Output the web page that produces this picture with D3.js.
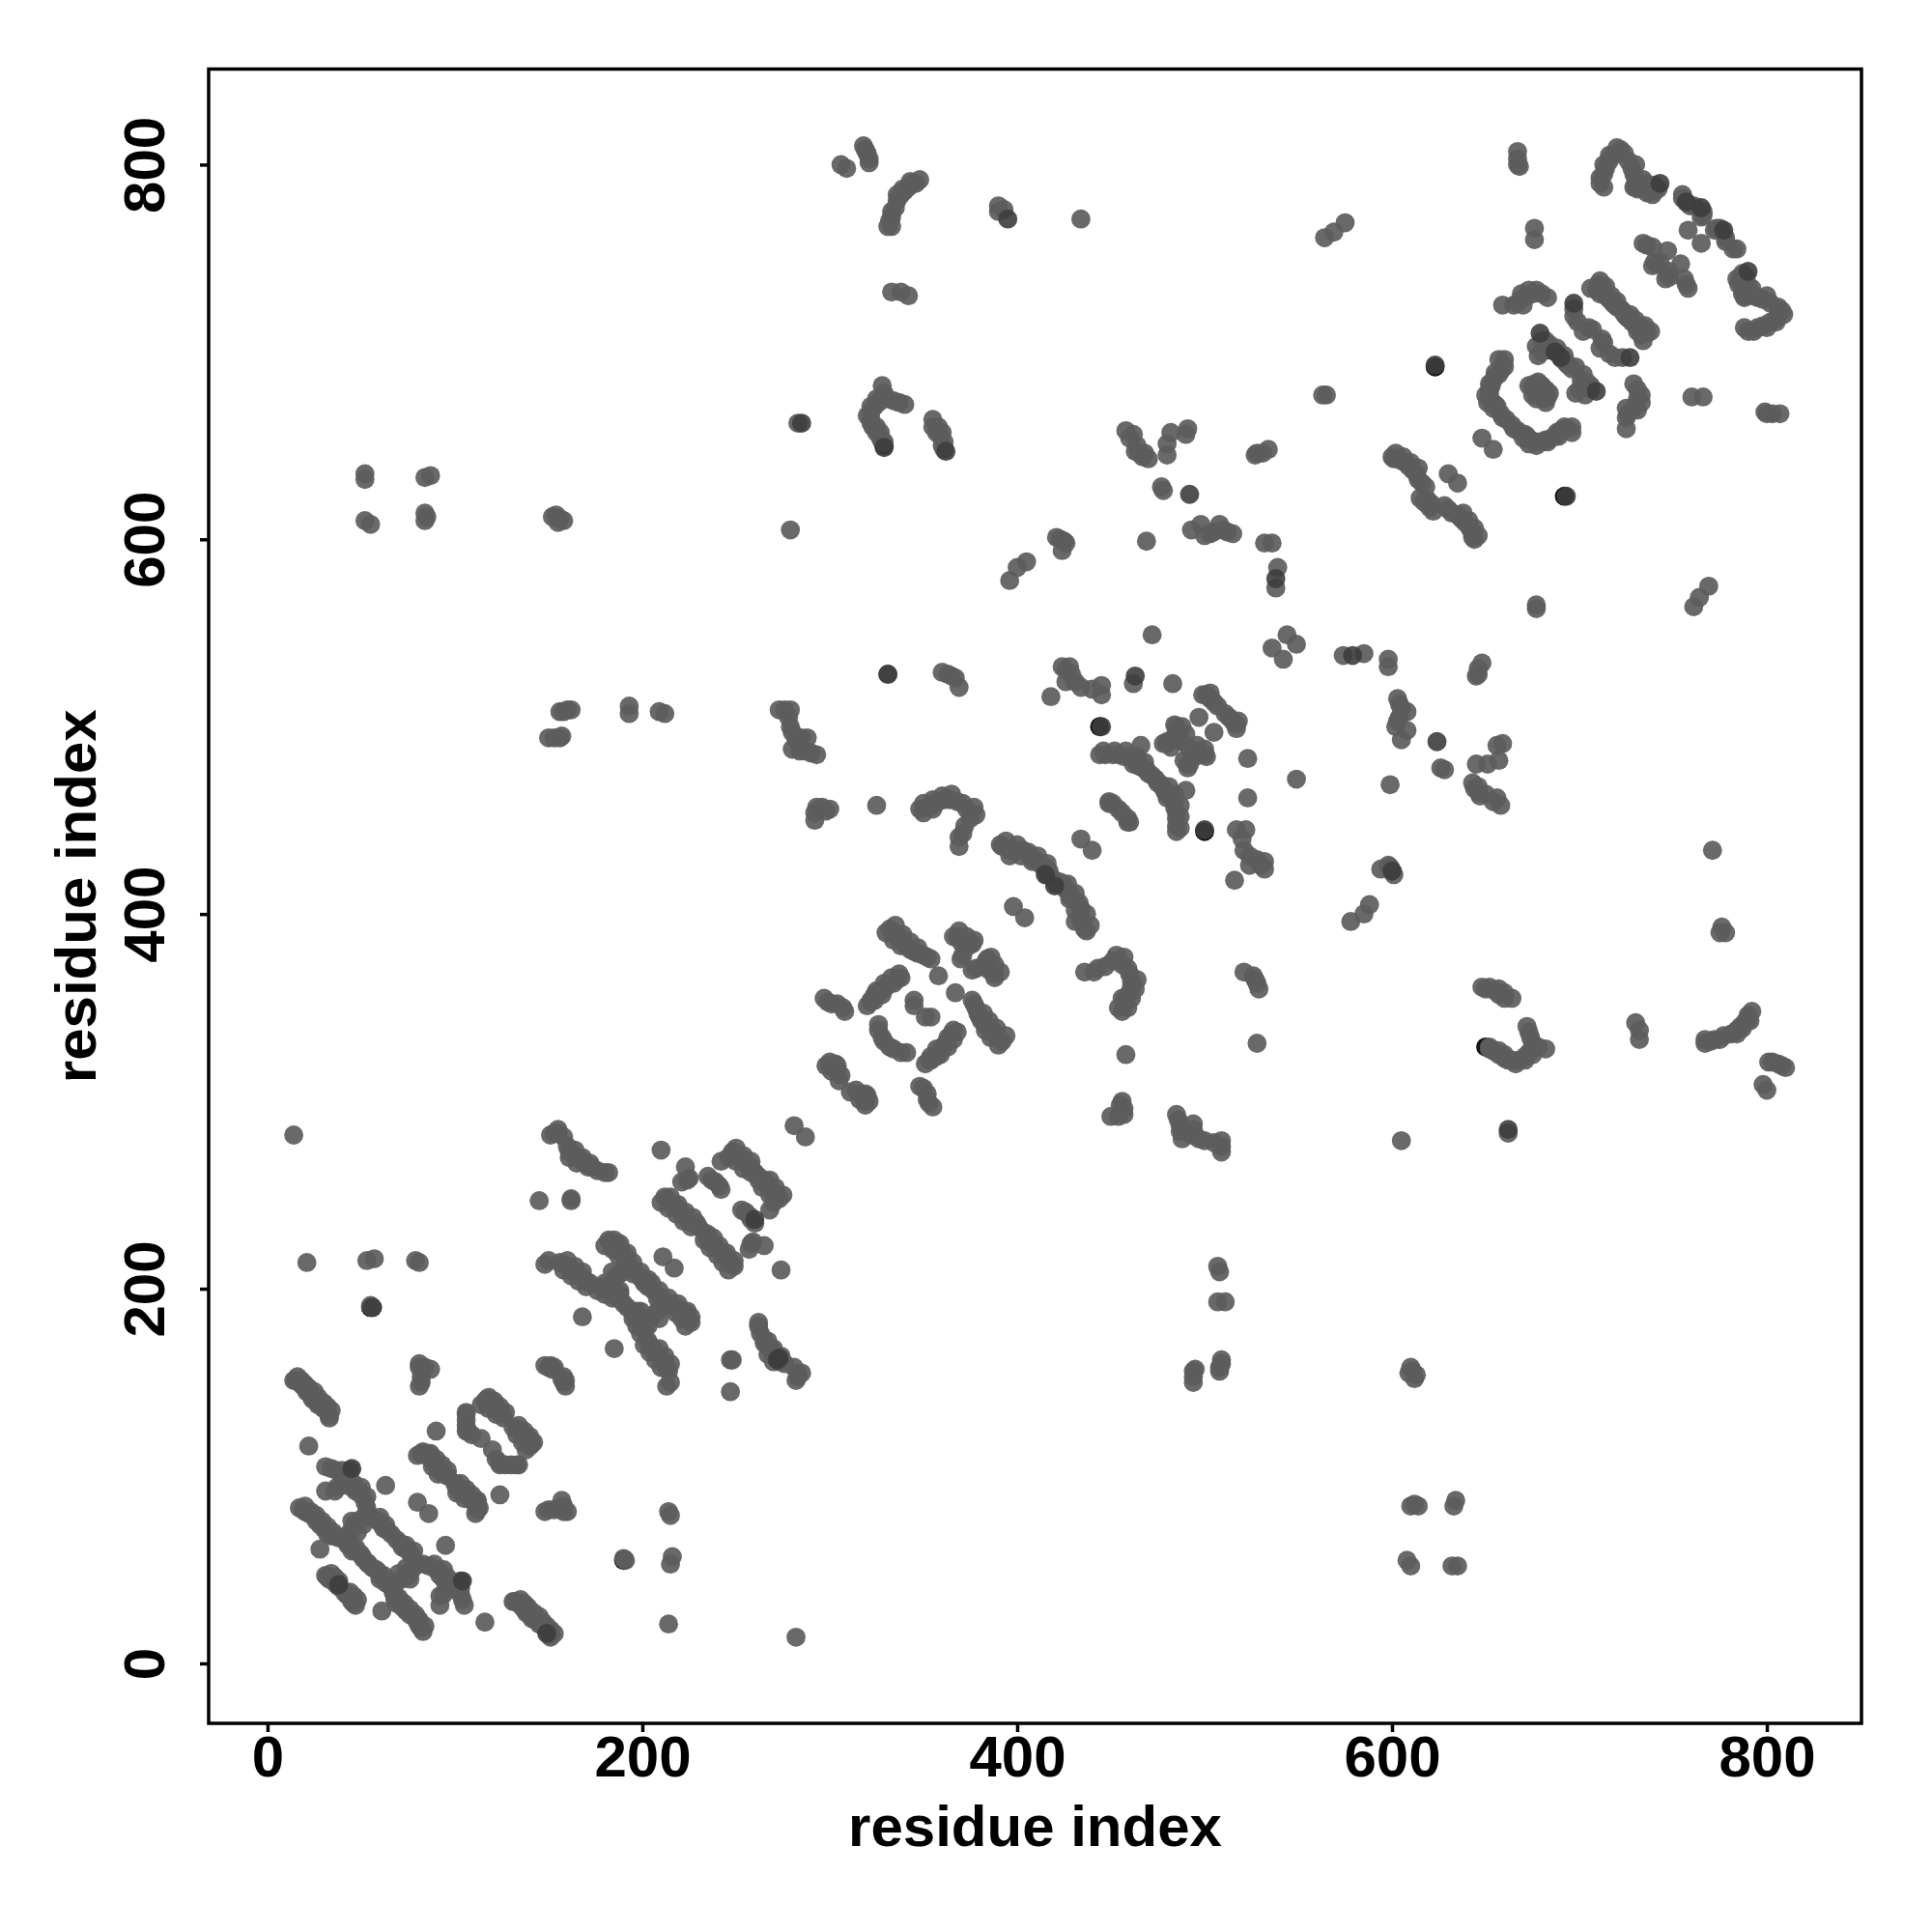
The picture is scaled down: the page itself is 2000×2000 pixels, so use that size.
<!DOCTYPE html>
<html><head><meta charset="utf-8"><style>html,body{margin:0;background:#fff}svg{display:block}text{font-family:"Liberation Sans",Arial,sans-serif;font-weight:bold;fill:#000}</style>
<script src="https://cdn.jsdelivr.net/npm/d3@7"></script></head><body><div id="c"></div><script>
const xTicks=[0,200,400,600,800], yTicks=[0,200,400,600,800];
const axisLabel="residue index";
const nTermContacts=[[14,151],[15,151],[17,151],[18,149],[19,148],[20,147],[21,145],[23,143],[24,141],[26,140],[27,138],[29,137],[30,136],[32,134],[33,132],[33,131],[22,116],[14,282],[21,214],[53,215],[57,216],[79,215],[81,214],[56,190],[55,191],
[31,105],[34,104],[37,103],[40,103],[44,103],[31,92],[37,94],[36,92],[41,97],[43,95],[45,94],[47,92],[49,92],[50,90],[52,86],[53,83],[53,80],[55,78],[57,77],[59,76],[61,74],[62,72],[64,71],[66,69],
[17,83],[19,82],[20,81],[22,80],[24,79],[26,76],[28,74],[30,72],[32,69],[34,68],[36,68],[38,67],[41,66],[43,63],[45,60],[47,60],[49,59],[51,56],[53,54],
[45,76],[47,75],[50,77],[46,73],[44,70],[43,68],[48,70],[51,74],[31,47],[32,46],[33,45],[35,44],[36,43],[37,42],[38,41],[28,61],[63,95],[80,86],[90,124],
[80,111],[82,112],[84,112],[85,111],[87,109],[89,107],[90,106],[91,104],[93,102],[94,101],[96,100],[86,112],
[116,140],[117,141],[118,140],[120,139],[122,136],[123,135],[125,133],[126,131],[106,133],[106,130],[106,124],[106,127],[107,124],[109,122],[114,120],[106,134],
[81,158],[84,158],[87,157],[82,150],[81,148],[82,153],[81,160],[148,159],[150,158],[151,159],[153,158],[152,157],
[16,153],[18,151],[20,149],[22,147],[25,145],[27,142],[30,139],[32,137],[34,135],[20,84],[23,81],[26,79],[29,76],[32,73],[35,70],[42,65],[47,62],[50,58],[40,99],[43,98],[46,96],[50,94],[53,89],[60,78],[63,74],[34,48],[36,46],[38,44],
[83,113],[87,112],[90,109],[93,106],[96,103],[88,105],[91,101],[118,142],[121,140],[124,137],[127,134],[114,138],[118,136],[122,133]];
const midContacts=[[151,282],[153,283],[155,283],[158,281],[161,273],[163,272],[165,270],[167,269],[169,267],[171,265],[173,265],[176,263],[180,262],[182,262],[145,247],[162,248],[162,247],
[148,213],[156,214],[158,213],[160,212],[162,210],[164,209],[166,207],[168,206],[170,204],[172,203],[168,185],
[182,226],[183,225],[185,224],[187,223],[189,220],[191,217],[192,215],[194,211],[196,209],[199,206],[201,204],[203,201],[188,220],[191,216],[184,209],[186,206],[188,208],
[178,201],[180,200],[182,199],[184,198],[186,196],[188,197],[190,192],[187,195],[183,201],
[210,274],[223,265],[225,259],[221,257],[224,258],[235,260],[237,258],[239,257],[241,255],[242,253],[242,268],[248,273],[250,272],[252,270],[254,268],[256,266],[258,265],[260,262],
[212,249],[213,248],[215,246],[217,244],[219,243],[221,240],[223,238],[225,236],[227,235],[229,235],[230,233],[211,217],
[273,509],[276,509],[279,509],[278,505],[279,500],[280,497],[282,493],[285,494],[288,494],[280,488],[284,487],[287,487],[290,486],[293,485],[281,287],
[298,319],[300,319],[302,318],[304,316],[306,314],[303,320],[297,355],[299,353],[301,352],[304,352],[307,350],[308,348],
[322,353],[322,354],[324,357],[326,358],[329,360],[331,362],[334,363],[336,365],[338,366],[326,341],[326,338],[328,334],[329,332],
[332,392],[334,390],[336,388],[338,387],[341,383],[343,381],[345,380],[347,379],[350,378],[352,377],[354,376],[345,354],[345,351],[358,367],
[366,388],[368,388],[370,385],[372,384],[374,383],[371,378],[376,384],[370,376],
[292,450],[292,454],[293,457],[296,457],[298,455],[300,456],[325,458],[331,528],[360,529],[363,528],[367,526],[369,521],[365,527],
[348,456],[352,457],[355,458],[358,460],[361,461],[364,461],[368,460],[371,459],[373,456],[377,457],[378,453],[375,451],[372,447],[371,443],[369,441],[369,436],
[391,437],[392,436],[396,434],[400,434],[403,434],[407,431],[409,429],[411,428],[413,426],[415,425],[416,421],[418,420],[417,423],[398,404],[434,440],
[155,285],[160,276],[164,274],[168,270],[172,267],[161,270],[165,267],[150,215],[160,215],[164,212],[168,209],[158,210],[162,207],[166,204],[170,201],[185,226],[188,224],[192,219],[195,214],[199,209],[203,205],[180,223],[184,221],[187,218],[191,212],[195,208],[180,203],[184,201],[188,199],[176,199],[180,197],[184,195],
[250,275],[254,271],[258,268],[246,270],[250,268],[254,264],[258,262],[215,249],[219,245],[223,241],[227,238],[210,246],[214,243],[218,240],[222,236],[226,233],
[300,321],[304,319],[301,316],[305,311],[325,359],[329,363],[333,366],[337,368],[320,351],[324,354],[328,357],[335,394],[339,389],[343,385],[347,382],[330,390],[334,386],[338,383],[369,391],[373,388],[377,386],
[350,459],[355,461],[360,463],[365,464],[350,454],[355,456],[394,439],[400,437],[406,433],[411,431],[416,427],[396,431],[402,431],[408,428]];
const longRangeContacts=[[150,494],[153,494],[156,494],[157,495],[156,508],[158,508],[160,509],[162,509],[193,511],[193,507],[209,508],[212,507],
[52,632],[52,635],[52,610],[55,608],[84,633],[87,634],[84,614],[84,610],[85,612],[152,612],[154,613],[156,611],[158,610],[155,609],[279,605],[283,662],
[306,800],[309,798],[318,810],[319,808],[320,806],[321,803],[321,801],[331,767],[333,767],[333,772],[335,777],[336,781],[338,784],[340,786],[342,788],[344,790],[346,790],[348,792],[333,732],[338,732],[342,730],
[390,778],[393,776],[390,775],[434,771],[564,761],[569,764],[575,769],[563,677],[565,677],
[320,666],[322,664],[323,660],[325,657],[327,654],[328,652],[322,668],[324,671],[326,673],[328,675],[328,682],[331,675],[334,674],[337,673],[340,672],
[355,664],[355,660],[357,657],[359,655],[361,652],[361,648],[360,650],
[396,578],[400,585],[405,588],[421,601],[423,600],[425,599],[424,594],[426,598],
[322,662],[325,660],[327,657],[329,652],[322,671],[325,675],[329,678],[358,660],[360,657],[333,775],[336,784],[339,787],[343,791],[332,770]];
const cTermContacts=[[462,656],[463,647],[467,644],[470,643],[465,646],[480,651],[482,657],[491,659],[490,656],[480,645],[477,628],[478,626],[469,599],
[493,605],[498,608],[503,603],[508,608],[515,603],[500,602],[505,604],[510,605],[512,604],[532,598],[536,598],[539,585],[538,574],[528,646],[531,646],[534,648],[527,645],
[472,549],[536,542],[544,549],[418,516],[424,532],[428,532],[426,524],[431,524],[434,521],[445,522],[445,517],[440,520],[429,528],[426,530],[462,523],[483,523],
[501,517],[505,513],[499,517],[503,515],[507,511],[503,518],[497,505],
[444,485],[447,485],[451,485],[454,485],[457,484],[460,484],[463,482],[462,480],[466,490],[465,479],[467,478],[469,477],[472,474],[449,460],[451,459],[454,456],[449,459],
[478,491],[480,492],[482,489],[484,501],[486,497],[488,500],[490,496],[485,500],[480,491],[486,494],[488,492],[484,495],
[600,644],[601,643],[603,643],[605,642],[607,641],[609,639],[611,637],[613,635],[614,632],[616,630],[618,628],[630,635],[615,622],[617,620],[619,621],[648,654],
[660,696],[660,692],[658,690],[655,687],[654,685],[653,682],[652,680],[652,678],[653,674],[655,672],[656,671],[658,667],[659,665],[661,664],[657,688],[659,693],
[673,682],[678,684],[675,677],[675,681],[680,682],[676,683],[677,680],
[680,706],[680,700],[683,702],[685,701],[691,696],[693,694],
[697,723],[697,719],[699,716],[702,711],[705,713],[707,712],
[709,733],[710,736],[712,735],[713,733],[714,730],[716,728],[718,726],[719,725],[720,724],[722,723],
[659,725],[665,725],[667,726],[669,728],[672,730],[675,731],[677,733],[680,731],[683,729],
[667,807],[667,803],[668,799],[667,800],[676,766],[676,760],
[722,808],[716,802],[713,795],[713,788],[711,790],[726,802],[729,795],[729,788],[737,788],[739,784],[718,805],[714,798],[724,806],[728,798],[730,792],[731,787],[735,790],[740,786],
[755,784],[755,782],[759,778],[761,778],[765,772],[758,765],[766,775],[766,773],
[734,758],[736,757],[739,756],[741,747],[747,754],[740,748],[739,746],[743,748],[742,787],[736,785],[730,788],
[458,658],[460,654],[464,650],[468,646],[446,487],[452,487],[458,487],[464,484],[468,481],[470,475],[602,646],[606,644],[610,641],[614,638],[655,689],[652,683],[650,677],[651,673],[654,670],[657,696],[682,706],[684,704],[688,702],[692,698],[677,703],[678,698],[711,738],[714,735],[717,730],[720,727],[706,734],[711,731],[669,731],[673,733],[670,725],[716,805],[720,809],[713,800],[711,793],[730,800],[734,792],[740,789]];
const darkPoints=[[260,237],[273,163],[272,162],[415,421],[420,415],[579,538],[538,579],[743,790],[790,743],[757,780],[765,777],[777,765],[697,726],[687,700],[690,697],[709,679],[727,697],[679,710],[623,693],[693,623],[395,771],[285,662],[662,285],[331,528],[492,624],[624,492],[600,423],[463,527],[445,500],[500,445],[45,104],[104,44],[38,42],[149,16],[329,649],[362,647],[56,190]];
const blackUnder=[[55,190],[329,650],[623,692],[444,500]];

const W=2000,H=2000,L=216,R=1927,T=71.5,B=1784;
const x=d3.scaleLinear().domain([-31.4,850.5]).range([L,R]);
const y=d3.scaleLinear().domain([-32,851]).range([B,T]);
const svg=d3.select("#c").append("svg").attr("width",W).attr("height",H);
svg.append("rect").attr("width",W).attr("height",H).attr("fill","#fff");
const both=a=>a.flatMap(([i,j])=>[[i,j],[j,i]]);
const layer=(data,fill,op)=>svg.append("g").selectAll("circle").data(data).join("circle")
  .attr("cx",d=>x(d[0])).attr("cy",d=>y(d[1])).attr("r",9.9).attr("fill",fill).attr("fill-opacity",op);
layer(both(blackUnder),"#151515",1);
layer(both([...nTermContacts,...midContacts,...longRangeContacts,...cTermContacts]),"#5c5c5c",0.92);
layer(darkPoints,"#3d3d3d",0.9);
svg.append("rect").attr("x",L).attr("y",T).attr("width",R-L).attr("height",B-T).attr("fill","none").attr("stroke","#000").attr("stroke-width",3.5);
const xa=svg.append("g").attr("transform",`translate(0,${B})`).call(d3.axisBottom(x).tickValues(xTicks).tickSize(9).tickPadding(6));
const ya=svg.append("g").attr("transform",`translate(${L},0)`).call(d3.axisLeft(y).tickValues(yTicks).tickSize(9));
[xa,ya].forEach(g=>{g.select(".domain").remove();g.selectAll("line").attr("stroke","#000").attr("stroke-width",3.5);});
xa.selectAll("text").attr("y",null).attr("dy",null).attr("transform",`translate(0,55)`).attr("font-size",60).attr("font-family",null).attr("text-anchor","middle");
ya.selectAll("text").attr("x",null).attr("dy",null).attr("text-anchor","middle").attr("font-size",60)
  .attr("transform",`translate(-46,0) rotate(-90)`);
svg.append("text").attr("x",(L+R)/2).attr("y",1911).attr("text-anchor","middle").attr("font-size",60).text(axisLabel);
svg.append("text").attr("transform",`translate(99,${(T+B)/2}) rotate(-90)`).attr("text-anchor","middle").attr("font-size",60).text(axisLabel);
</script></body></html>
